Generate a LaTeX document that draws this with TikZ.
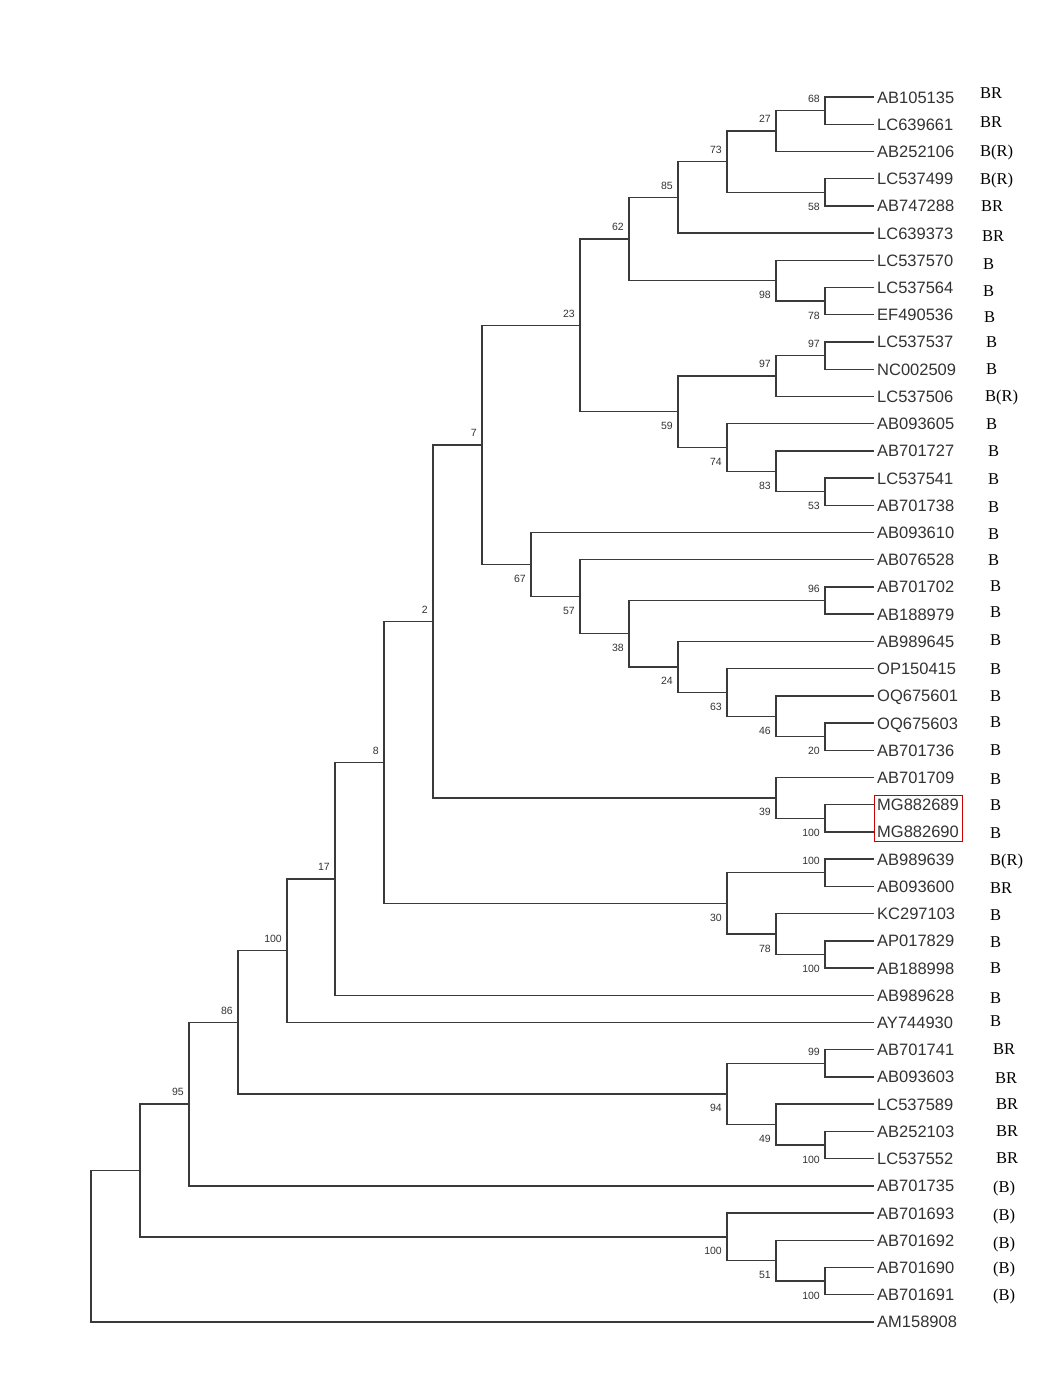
\documentclass[tikz,border=0pt]{standalone}
\usepackage{fontspec}
\setmainfont{Liberation Serif}
\newfontfamily\arialf{Liberation Sans}
\usetikzlibrary{calc,fit}
\definecolor{linecol}{HTML}{3A3A3A}
\definecolor{textcol}{HTML}{333333}
\newcommand\mkclade[6]{%
  \path let \p1=(#3), \p2=(#4) in (#1pt,{0.5*\y1+0.5*\y2}) coordinate (#2);
  \draw[br] (#2) |- (#3);
  \draw[br] (#2) |- (#4);
  \if#6a
    \node[boot,anchor=south east] (b#2) at ([xshift=-5pt,yshift=8pt]#2) {#5};
  \else\if#6b
    \node[boot,anchor=north east] (b#2) at ([xshift=-5pt,yshift=-10.5pt]#2) {#5};
  \fi\fi}
\newcommand\tagat[4]{\node[tagtxt] (R#1) at (#3,{97+27.22*#1+#4+5.5}) {#2};}
\begin{document}
\begin{tikzpicture}[x=1pt,y=-1pt,
  br/.style={draw=linecol,line width=1.4pt,line cap=rect},
  leaf/.style={anchor=base west,inner sep=0pt,font=\arialf\fontsize{16.5}{18}\selectfont,text=textcol},
  boot/.style={inner sep=0pt,font=\arialf\fontsize{10.5}{12}\selectfont,text=textcol},
  tagtxt/.style={anchor=base west,inner sep=0pt,font=\fontsize{16.5}{18}\selectfont,text=black}]
\fill[white] (0,0) rectangle (1050,1400);
\useasboundingbox (0,0) rectangle (1050,1400);
\foreach \n [count=\i from 0] in {AB105135,LC639661,AB252106,LC537499,AB747288,LC639373,LC537570,LC537564,EF490536,LC537537,NC002509,LC537506,AB093605,AB701727,LC537541,AB701738,AB093610,AB076528,AB701702,AB188979,AB989645,OP150415,OQ675601,OQ675603,AB701736,AB701709,MG882689,MG882690,AB989639,AB093600,KC297103,AP017829,AB188998,AB989628,AY744930,AB701741,AB093603,LC537589,AB252103,LC537552,AB701735,AB701693,AB701692,AB701690,AB701691,AM158908}{
  \coordinate (t\i) at (873,{97+27.22*\i});
  \node[leaf] (L\i) at (877,{97+27.22*\i+6}) {\n};
}
% clades
\mkclade{825}{n68}{t0}{t1}{68}{a}
\mkclade{776}{n27}{n68}{t2}{27}{a}
\mkclade{825}{n58}{t3}{t4}{58}{b}
\mkclade{727}{n73}{n27}{n58}{73}{a}
\mkclade{678}{n85}{n73}{t5}{85}{a}
\mkclade{825}{n78}{t7}{t8}{78}{b}
\mkclade{776}{n98}{t6}{n78}{98}{b}
\mkclade{629}{n62}{n85}{n98}{62}{a}
\mkclade{825}{n97a}{t9}{t10}{97}{a}
\mkclade{776}{n97b}{n97a}{t11}{97}{a}
\mkclade{825}{n53}{t14}{t15}{53}{b}
\mkclade{776}{n83}{t13}{n53}{83}{b}
\mkclade{727}{n74}{t12}{n83}{74}{b}
\mkclade{678}{n59}{n97b}{n74}{59}{b}
\mkclade{580}{n23}{n62}{n59}{23}{a}
\mkclade{825}{n96}{t18}{t19}{96}{a}
\mkclade{825}{n20}{t23}{t24}{20}{b}
\mkclade{776}{n46}{t22}{n20}{46}{b}
\mkclade{727}{n63}{t21}{n46}{63}{b}
\mkclade{678}{n24}{t20}{n63}{24}{b}
\mkclade{629}{n38}{n96}{n24}{38}{b}
\mkclade{580}{n57}{t17}{n38}{57}{b}
\mkclade{531}{n67}{t16}{n57}{67}{b}
\mkclade{482}{n7}{n23}{n67}{7}{a}
\mkclade{825}{nmg}{t26}{t27}{100}{b}
\mkclade{776}{n39}{t25}{nmg}{39}{b}
\mkclade{433}{n2}{n7}{n39}{2}{a}
\mkclade{825}{n100a}{t28}{t29}{100}{a}
\mkclade{825}{n100b}{t31}{t32}{100}{b}
\mkclade{776}{n78b}{t30}{n100b}{78}{b}
\mkclade{727}{n30}{n100a}{n78b}{30}{b}
\mkclade{384}{n8}{n2}{n30}{8}{a}
\mkclade{335}{n17}{n8}{t33}{17}{a}
\mkclade{287}{n100c}{n17}{t34}{100}{a}
\mkclade{825}{n99}{t35}{t36}{99}{a}
\mkclade{825}{n100d}{t38}{t39}{100}{b}
\mkclade{776}{n49}{t37}{n100d}{49}{b}
\mkclade{727}{n94}{n99}{n49}{94}{b}
\mkclade{238}{n86}{n100c}{n94}{86}{a}
\mkclade{189}{n95}{n86}{t40}{95}{a}
\mkclade{825}{n100e}{t43}{t44}{100}{b}
\mkclade{776}{n51}{t42}{n100e}{51}{b}
\mkclade{727}{n100f}{t41}{n51}{100}{b}
\mkclade{140}{n140}{n95}{n100f}{}{n}
\mkclade{91}{nroot}{n140}{t45}{}{n}
% red box
\node[draw=red!80!black,line width=0.9pt,inner xsep=3pt,inner ysep=3.5pt,fit=(L26)(L27)] (box) {};
% trait tags
\tagat{0}{BR}{980}{-4}
\tagat{1}{BR}{980}{-2}
\tagat{2}{B(R)}{980}{0}
\tagat{3}{B(R)}{980}{0}
\tagat{4}{BR}{981}{0}
\tagat{5}{BR}{982}{3}
\tagat{6}{B}{983}{4}
\tagat{7}{B}{983}{3}
\tagat{8}{B}{984}{2}
\tagat{9}{B}{986}{0}
\tagat{10}{B}{986}{0}
\tagat{11}{B(R)}{985}{0}
\tagat{12}{B}{986}{0}
\tagat{13}{B}{988}{0}
\tagat{14}{B}{988}{1}
\tagat{15}{B}{988}{2}
\tagat{16}{B}{988}{1}
\tagat{17}{B}{988}{0}
\tagat{18}{B}{990}{-1}
\tagat{19}{B}{990}{-2}
\tagat{20}{B}{990}{-1}
\tagat{21}{B}{990}{0}
\tagat{22}{B}{990}{0}
\tagat{23}{B}{990}{-1}
\tagat{24}{B}{990}{0}
\tagat{25}{B}{990}{1}
\tagat{26}{B}{990}{0}
\tagat{27}{B}{990}{1}
\tagat{28}{B(R)}{990}{1}
\tagat{29}{BR}{990}{2}
\tagat{30}{B}{990}{1}
\tagat{31}{B}{990}{1}
\tagat{32}{B}{990}{0}
\tagat{33}{B}{990}{3}
\tagat{34}{B}{990}{-1}
\tagat{35}{BR}{993}{-1}
\tagat{36}{BR}{995}{1}
\tagat{37}{BR}{996}{0}
\tagat{38}{BR}{996}{0}
\tagat{39}{BR}{996}{-1}
\tagat{40}{(B)}{993}{1}
\tagat{41}{(B)}{993}{2}
\tagat{42}{(B)}{993}{3}
\tagat{43}{(B)}{993}{1}
\tagat{44}{(B)}{993}{0}
\end{tikzpicture}
\end{document}
